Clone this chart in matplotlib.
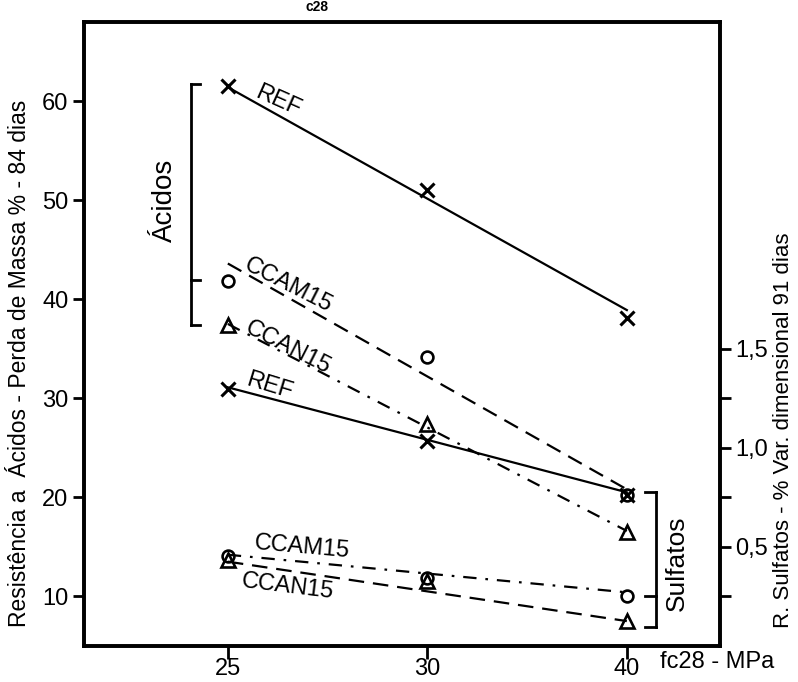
import matplotlib
matplotlib.use("Agg")
import matplotlib.pyplot as plt

plt.rcParams['font.family'] = ['Liberation Sans', 'DejaVu Sans']

# x categories (fc28 - MPa), plotted at even spacing
fc28 = ['25', '30', '40']
xpos = [0, 1, 2]

# Acid attack - mass loss % (left axis)
acid_ref = [61.5, 51.0, 38.1]
acid_ccam = [41.8, 34.2, 20.2]
acid_ccan = [37.4, 27.4, 16.5]
# trend lines (values at 25 and 40)
acid_ref_fit = [61.4, 38.9]
acid_ccam_fit = [43.6, 20.8]
acid_ccan_fit = [37.5, 16.6]

# Sulfate attack - dimensional variation % (right axis)
sulf_ref = [1.295, 1.035, 0.76]
sulf_ccam = [0.455, 0.345, 0.25]
sulf_ccan = [0.435, 0.325, 0.125]
sulf_ref_fit = [1.305, 0.775]
sulf_ccam_fit = [0.46, 0.27]
sulf_ccan_fit = [0.425, 0.125]

left_ticks = [10, 20, 30, 40, 50, 60]
right_ticks = [0.25, 0.5, 0.75, 1.0, 1.25, 1.5]
right_labels = ['', '0,5', '', '1,0', '', '1,5']

# bracket extents
acid_bracket = [61.7, 41.9, 37.4]
sulf_bracket = [0.775, 0.25, 0.095]

fig = plt.figure(figsize=(7.98, 6.82), dpi=100)
ax = fig.add_axes([0.105, 0.053, 0.797, 0.915])
ax2 = ax.twinx()

ends = [xpos[0], xpos[-1]]
lw = 1.6
ms = 10

# acid series
ax.plot(ends, acid_ref_fit, color='black', lw=lw)
ax.plot(xpos, acid_ref, 'x', color='black', ms=ms, mew=2.2)
ax.plot(ends, acid_ccam_fit, color='black', lw=lw, dashes=(7, 4))
ax.plot(xpos, acid_ccam, 'o', color='black', mfc='none', ms=8.5, mew=1.9)
ax.plot(ends, acid_ccan_fit, color='black', lw=lw, dashes=(6, 4, 1.2, 4))
ax.plot(xpos, acid_ccan, '^', color='black', mfc='none', ms=9.5, mew=1.9)

# sulfate series
ax2.plot(ends, sulf_ref_fit, color='black', lw=lw)
ax2.plot(xpos, sulf_ref, 'x', color='black', ms=ms, mew=2.2)
ax2.plot(ends, sulf_ccam_fit, color='black', lw=lw, dashes=(6, 4, 1.2, 4))
ax2.plot(xpos, sulf_ccam, 'o', color='black', mfc='none', ms=8.5, mew=1.9)
ax2.plot(ends, sulf_ccan_fit, color='black', lw=lw, dashes=(7, 4))
ax2.plot(xpos, sulf_ccan, '^', color='black', mfc='none', ms=9.5, mew=1.9)

# curve labels
lab = dict(fontsize=17, ha='center', va='center', rotation_mode='anchor')
ax.text(0.25, 60.0, 'REF', rotation=-24, **lab)
ax.text(0.30, 41.4, 'CCAM15', rotation=-27, **lab)
ax.text(0.30, 35.1, 'CCAN15', rotation=-27, **lab)
ax.text(0.21, 31.2, 'REF', rotation=-17, **lab)
ax.text(0.37, 15.0, 'CCAM15', rotation=-5, **lab)
ax.text(0.30, 11.0, 'CCAN15', rotation=-7, **lab)

# brackets
bx, bt = -0.185, -0.14
ax.plot([bx, bx], [acid_bracket[0], acid_bracket[-1]], color='black', lw=2)
for v in acid_bracket:
    ax.plot([bx, bt], [v, v], color='black', lw=2)
ax.text(-0.315, 50, 'Ácidos', rotation=90, fontsize=20, ha='center', va='center')

sx, st = 2.145, 2.09
ax2.plot([sx, sx], [sulf_bracket[0], sulf_bracket[-1]], color='black', lw=2)
for v in sulf_bracket:
    ax2.plot([sx, st], [v, v], color='black', lw=2)
ax2.text(2.25, 0.415, 'Sulfatos', rotation=90, fontsize=19, ha='center', va='center')

# axes setup
ax.set_xlim(-0.722, 2.466)
ax.set_ylim(5, 68)
ax2.set_ylim(0, 3.15)
ax.set_xticks(xpos)
ax.set_xticklabels(fc28)
ax.set_yticks(left_ticks)
ax2.set_yticks(right_ticks)
ax2.set_yticklabels(right_labels)

for a in (ax, ax2):
    for s in a.spines.values():
        s.set_linewidth(2.6)
    a.tick_params(width=2, length=8, labelsize=17, direction='out', pad=3)
ax.tick_params(axis='x', length=9, pad=0)

ax.set_ylabel('Resistência a  Ácidos - Perda de Massa % - 84 dias', fontsize=16.5)
ax.yaxis.set_label_coords(-0.083, 0.452)
ax2.set_ylabel('R. Sulfatos - % Var. dimensional 91 dias', fontsize=16)
ax2.yaxis.set_label_coords(1.083, 0.346)

fig.text(660 / 798, 1 - 662 / 682, 'fc28 - MPa', fontsize=17, ha='left', va='center')
fig.text(0.397, 1.0, 'c28', fontsize=10, fontweight='bold', ha='center', va='top')

fig.savefig('out.png', dpi=100)
